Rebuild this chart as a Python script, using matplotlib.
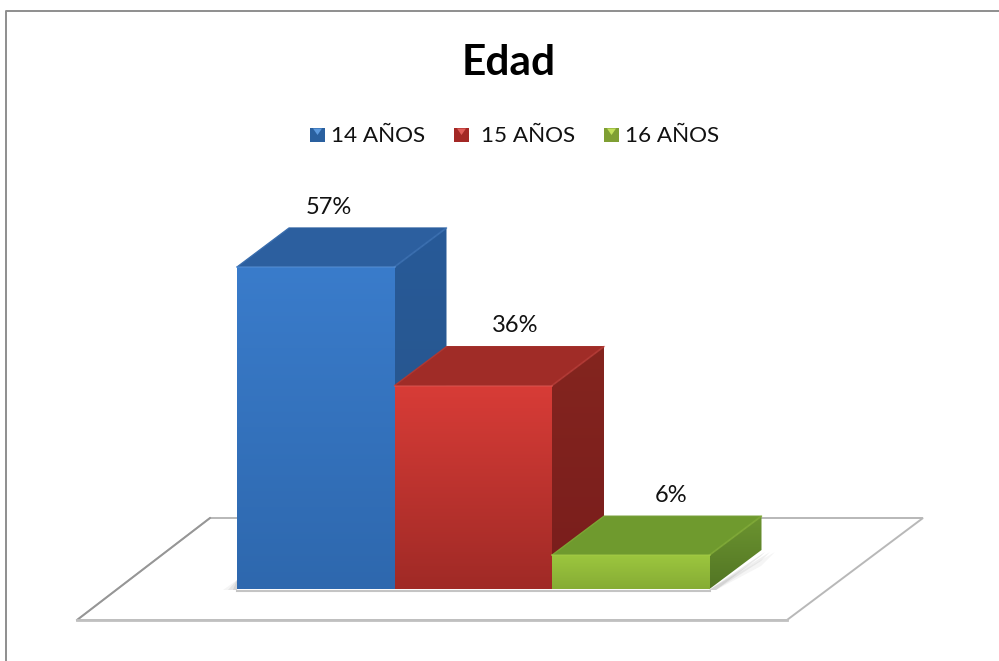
import numpy as np
import matplotlib
matplotlib.use("Agg")
import matplotlib.pyplot as plt
from matplotlib.patches import Polygon
from matplotlib.lines import Line2D
from matplotlib.colors import LinearSegmentedColormap

plt.rcParams['font.family'] = ['Lato', 'DejaVu Sans']

title = "Edad"
categories = ["14 AÑOS", "15 AÑOS", "16 AÑOS"]
values = [57, 36, 6]
labels = ["57%", "36%", "6%"]

W, H = 999, 661
dpi = 100
fig = plt.figure(figsize=(W / dpi, H / dpi), dpi=dpi, facecolor="white")

# full-figure pixel overlay for chart furniture
bg = fig.add_axes([0, 0, 1, 1], zorder=0)
bg.set_xlim(0, W); bg.set_ylim(H, 0); bg.axis("off")
bg.add_line(Line2D([6, 6, 999], [661, 11, 11], color="#8e8e8e", lw=1.4))

# plot axes: category units horizontally, percent vertically
PX_X0, PX_X1, PX_Y0 = 237.0, 709.5, 589.0
PX_PER_PCT = 5.65
PX_PER_CAT = (PX_X1 - PX_X0) / 3
XLO, XHI = -1.5, 5.0
YLO, YHI = -10, 70
ax = fig.add_axes([(PX_X0 + XLO * PX_PER_CAT) / W,
                   1 - (PX_Y0 - YLO * PX_PER_PCT) / H,
                   (XHI - XLO) * PX_PER_CAT / W,
                   (YHI - YLO) * PX_PER_PCT / H], zorder=1)
ax.set_xlim(XLO, XHI); ax.set_ylim(YLO, YHI); ax.axis("off")
ax.patch.set_alpha(0)

DX = 52 / PX_PER_CAT
DY = 39 / PX_PER_PCT


def px(xp, yp):
    return (xp - PX_X0) / PX_PER_CAT, (PX_Y0 - yp) / PX_PER_PCT


# floor
floor = [px(77, 620), px(787, 620), px(923, 518), px(210, 518)]
ax.add_patch(Polygon(floor, closed=True, fc="white", ec="#b8b8b8", lw=1.4, zorder=1))
ax.plot(*zip(px(77, 620), px(210, 518)), color="#969696", lw=1.3, zorder=1.1)
ax.plot(*zip(px(77, 620), px(787, 620)), color="#c0c0c0", lw=2.0, zorder=1.1)

styles = [
    dict(front=("#3a7ccb", "#2e68ae"), top="#2c5f9f", side=("#285a98", "#265488"), hi="#5b93d8"),
    dict(front=("#d83c37", "#a02a26"), top="#a02c27", side=("#84251f", "#791d1c"), hi="#e05a55"),
    dict(front=("#9cc63e", "#86ac35"), top="#6f9a2e", side=("#6c9430", "#527524"), hi="#a5cc48"),
]
label_shift_px = [-13, 16, 14]


def gradient(poly, c_top, c_bot, z=3):
    cmap = LinearSegmentedColormap.from_list("g", [c_top, c_bot])
    xs = [p[0] for p in poly]; ys = [p[1] for p in poly]
    arr = np.linspace(0, 1, 128)[:, None]
    im = ax.imshow(arr, cmap=cmap, aspect="auto", origin="upper",
                   extent=[min(xs), max(xs), min(ys), max(ys)],
                   zorder=z, interpolation="bilinear")
    patch = Polygon(poly, closed=True, fc="none", ec="none")
    ax.add_patch(patch)
    im.set_clip_path(patch)


# soft shadows on the floor
for k, a in zip((14, 9, 4), (0.06, 0.09, 0.13)):
    ax.add_patch(Polygon([px(709, 590), px(761 + k, 552), px(761, 552 + k), px(716, 590)],
                         closed=True, fc="#555555", ec="none", alpha=a, zorder=2))
    ax.add_patch(Polygon([px(237 - k, 590), px(237, 580), px(237, 590)],
                         closed=True, fc="#555555", ec="none", alpha=a, zorder=2))
ax.plot(*zip(px(237, 590.5), px(710, 590.5)), color="#c4c4c4", lw=1.5, zorder=2)

for i, (v, s, lab) in enumerate(zip(values, styles, labels)):
    x0, x1 = i, i + 1
    z = 3 + i
    # side face
    gradient([(x1, 0), (x1 + DX, DY), (x1 + DX, v + DY), (x1, v)],
             s["side"][0], s["side"][1], z=z)
    # top face
    ax.add_patch(Polygon([(x0, v), (x1, v), (x1 + DX, v + DY), (x0 + DX, v + DY)],
                         closed=True, fc=s["top"], ec=s["top"], lw=0.8,
                         joinstyle="round", zorder=z + 0.1))
    # front face
    gradient([(x0, 0), (x1, 0), (x1, v), (x0, v)], s["front"][0], s["front"][1], z=z + 0.5)
    # bevel highlights along the top edges
    ax.plot([x0, x1], [v, v], color=s["hi"], lw=1.4, alpha=0.45, zorder=z + 0.6)
    ax.plot([x1, x1 + DX], [v, v + DY], color=s["hi"], lw=1.4, alpha=0.25, zorder=z + 0.6)
    ax.plot([x0, x0 + DX], [v, v + DY], color=s["hi"], lw=1.0, alpha=0.25, zorder=z + 0.6)
    ax.text(i + 0.5 + DX / 2 + label_shift_px[i] / PX_PER_CAT, v + DY + 3.7, lab,
            ha="center", va="center", fontsize=17, color="#111111", zorder=10)

ax.set_xlim(XLO, XHI); ax.set_ylim(YLO, YHI)

# title and legend
bg.text(509, 63, title, ha="center", va="center", fontsize=30.5, fontweight="bold", color="black")
leg_sq = [310, 454, 604]
leg_tx = [331, 481, 625]
leg_cols = [("#5d9ade", "#2a609f"), ("#e05c58", "#a32825"), ("#c2e05a", "#7f9f33")]
for sx, tx, (c1, c2), name in zip(leg_sq, leg_tx, leg_cols, categories):
    bg.add_patch(plt.Rectangle((sx, 128), 15, 14, fc=c2, ec="none"))
    bg.add_patch(Polygon([(sx + 3, 128.5), (sx + 12, 128.5), (sx + 7.5, 135)], closed=True,
                         fc=c1, ec="none"))
    bg.text(tx, 135.5, name, ha="left", va="center", fontsize=16.2, color="#111111")

fig.savefig("out.png", dpi=dpi, facecolor="white")
